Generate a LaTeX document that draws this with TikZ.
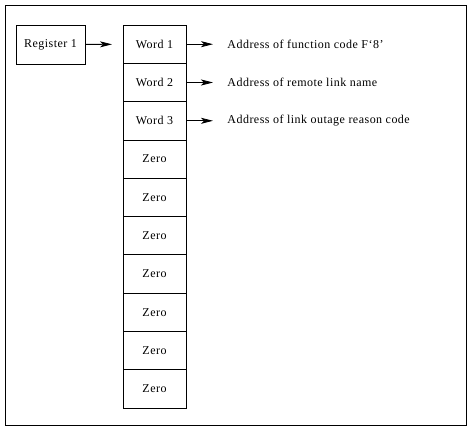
\documentclass[tikz,border=0pt]{standalone}
\usepackage{fontspec}
\setmainfont[LetterSpace=4]{Liberation Serif}
\usetikzlibrary{positioning,arrows.meta}

\begin{document}
\begin{tikzpicture}[x=1pt,y=-1pt,>={Stealth[length=12pt,width=6pt,inset=3pt]},
                line width=0.8pt,node distance=0pt,font=\fontsize{12}{14}\selectfont]
        \tikzset{cell/.style={draw,minimum width=63pt,minimum height=38.3pt,inner sep=0pt,outer sep=0pt},
                 regbox/.style={draw,minimum width=69pt,minimum height=39pt,inner sep=0pt},
                 addr/.style={inner sep=0pt,anchor=west}}

        \useasboundingbox (0,0) rectangle (470,430);
        \draw (5,5) rectangle (466,425);

        \node[regbox]        (reg) at (50.5,44.5) {Register 1};
        \node[cell]          (w1) at (154.5,44.2) {Word 1};
        \node[cell]          (w2) [below=of w1] {Word 2};
        \node[cell]          (w3) [below=of w2] {Word 3};
        \node[cell]          (z1) [below=of w3] {Zero};
        \node[cell]          (z2) [below=of z1] {Zero};
        \node[cell]          (z3) [below=of z2] {Zero};
        \node[cell]          (z4) [below=of z3] {Zero};
        \node[cell]          (z5) [below=of z4] {Zero};
        \node[cell]          (z6) [below=of z5] {Zero};
        \node[cell]          (z7) [below=of z6] {Zero};

        \node[addr]          (a1) [right=41pt of w1] {Address of function code F‘8’};
        \node[addr]          (a2) [right=41pt of w2] {Address of remote link name};
        \node[addr]          (a3) [right=41pt of w3] {Address of link outage reason code};

        \draw[->,shorten >=11pt] (reg) -- (w1);
        \draw[->,shorten >=14pt] (w1) -- (a1);
        \draw[->,shorten >=14pt] (w2) -- (a2);
        \draw[->,shorten >=14pt] (w3) -- (a3);

\end{tikzpicture}
\end{document}
